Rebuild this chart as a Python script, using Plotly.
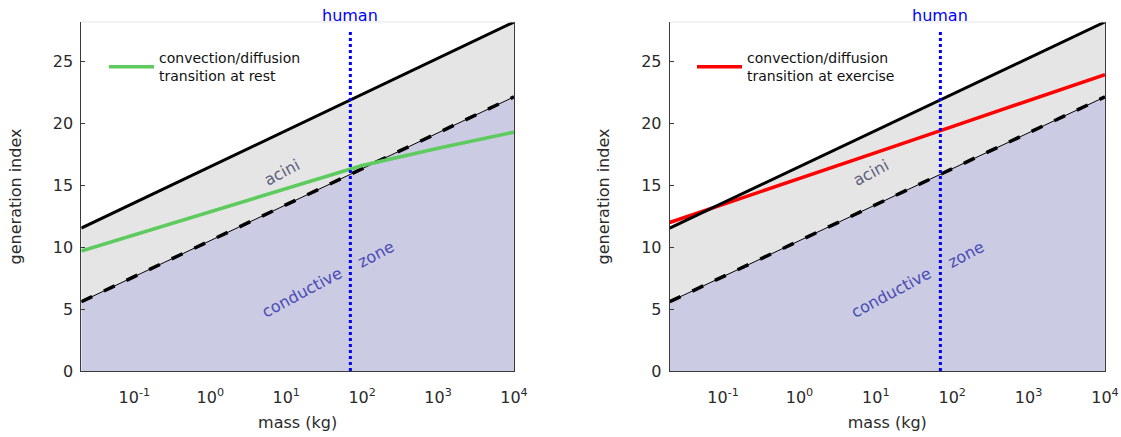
import plotly.graph_objects as go

# ---------------- data ----------------
mass_ends = [0.02, 10000]                      # kg, x-range end points of the lines
upper_boundary = [11.55, 28.2]                 # total generations (solid black)
lower_boundary = [5.6, 22.15]                  # end of conductive zone (dashed)

rest_mass = [0.02, 0.1, 1, 10, 100, 1000, 10000]
rest_gen = [9.7, 11.0, 12.85, 14.7, 16.6, 18.0, 19.3]

exercise_mass = [0.02, 0.1, 1, 10, 100, 1000, 10000]
exercise_gen = [12.0, 13.45, 15.55, 17.65, 19.75, 21.85, 23.95]

human_mass = 70
human_line = [0, 27.5]

x_tickvals = [0.1, 1, 10, 100, 1000, 10000]
x_ticktext = ["10<sup>-1</sup>", "10<sup>0</sup>", "10<sup>1</sup>",
              "10<sup>2</sup>", "10<sup>3</sup>", "10<sup>4</sup>"]
y_tickvals = [0, 5, 10, 15, 20, 25]

panels = [
    dict(mass=rest_mass, gen=rest_gen, color="#5ecb5e",
         name="convection/diffusion<br>transition at rest"),
    dict(mass=exercise_mass, gen=exercise_gen, color="#ff0000",
         name="convection/diffusion<br>transition at exercise"),
]

# ---------------- figure ----------------
FONT = "DejaVu Sans"
fig = go.Figure()

x_domains = [[0.0725, 0.4585], [0.5974, 0.9857]]
y_domain = [0.151, 0.9497]

for i, p in enumerate(panels):
    xa = "x" if i == 0 else "x2"
    ya = "y" if i == 0 else "y2"
    leg = "legend" if i == 0 else "legend2"
    # conductive zone fill
    fig.add_trace(go.Scatter(x=mass_ends, y=lower_boundary, mode="lines",
                             line=dict(width=0, color="rgba(0,0,0,0)"),
                             fill="tozeroy", fillcolor="#cbcbe3",
                             xaxis=xa, yaxis=ya, showlegend=False, hoverinfo="skip"))
    # acini fill
    fig.add_trace(go.Scatter(x=mass_ends, y=upper_boundary, mode="lines",
                             line=dict(width=0, color="rgba(0,0,0,0)"),
                             fill="tonexty", fillcolor="#e5e5e5",
                             xaxis=xa, yaxis=ya, showlegend=False, hoverinfo="skip"))
    # thin solid under dashed
    fig.add_trace(go.Scatter(x=mass_ends, y=lower_boundary, mode="lines",
                             line=dict(width=1, color="black"),
                             xaxis=xa, yaxis=ya, showlegend=False))
    fig.add_trace(go.Scatter(x=mass_ends, y=lower_boundary, mode="lines",
                             line=dict(width=3.5, color="black", dash="12px,13px"),
                             xaxis=xa, yaxis=ya, showlegend=False))
    # transition line
    fig.add_trace(go.Scatter(x=p["mass"], y=p["gen"], mode="lines",
                             line=dict(width=3.5, color=p["color"]),
                             name=p["name"], legend=leg,
                             xaxis=xa, yaxis=ya, showlegend=True))
    # upper boundary
    fig.add_trace(go.Scatter(x=mass_ends, y=upper_boundary, mode="lines",
                             line=dict(width=3, color="black"),
                             xaxis=xa, yaxis=ya, showlegend=False))
    # human
    fig.add_trace(go.Scatter(x=[human_mass, human_mass], y=human_line, mode="lines",
                             line=dict(width=3, color="#0000ff", dash="dot"),
                             xaxis=xa, yaxis=ya, showlegend=False))

    xref = "x" if i == 0 else "x2"
    yref = "y" if i == 0 else "y2"
    fig.add_annotation(x=0.94, y=16.06, xref=xref, yref=yref, text="acini",
                       showarrow=False, textangle=-28,
                       font=dict(family=FONT, size=16, color="#60607f"))
    fig.add_annotation(x=1.205, y=6.36, xref=xref, yref=yref, text="conductive",
                       showarrow=False, textangle=-28,
                       font=dict(family=FONT, size=16, color="#4a4ab4"))
    fig.add_annotation(x=2.177, y=9.39, xref=xref, yref=yref, text="zone",
                       showarrow=False, textangle=-28,
                       font=dict(family=FONT, size=16, color="#4a4ab4"))
    fig.add_annotation(x=1.845, y=28.2, xref=xref, yref=yref, text="human",
                       showarrow=False, yanchor="bottom", yshift=-5,
                       font=dict(family=FONT, size=16, color="#0000ff"))
    # light top frame
    fig.add_shape(type="line", xref=f"{xref} domain", yref=f"{yref} domain",
                  x0=0, x1=1, y0=1, y1=1, line=dict(color="#e6e6e6", width=1))

axis_common_x = dict(type="log", range=[-1.699, 4], tickvals=x_tickvals, ticktext=x_ticktext,
                     showgrid=False, zeroline=False, showline=True, linecolor="#3a3a3a",
                     linewidth=1, ticks="", ticklabelstandoff=12, automargin=False,
                     tickfont=dict(family=FONT, size=16, color="#2a2a2a"),
                     title=dict(text="mass (kg)", font=dict(family=FONT, size=16, color="#2a2a2a"),
                                standoff=10))
axis_common_y = dict(range=[0, 28.2], tickvals=y_tickvals, showgrid=False, zeroline=False,
                     showline=True, mirror=True, linecolor="#3a3a3a", linewidth=1,
                     ticks="inside", ticklen=4, tickcolor="#3a3a3a", ticklabelstandoff=4,
                     automargin=False,
                     tickfont=dict(family=FONT, size=16, color="#2a2a2a"),
                     title=dict(text="generation index", font=dict(family=FONT, size=16, color="#2a2a2a"),
                                standoff=27))

fig.update_layout(
    width=1121, height=437,
    margin=dict(l=0, r=0, t=0, b=0, autoexpand=False),
    paper_bgcolor="white", plot_bgcolor="white",
    font=dict(family=FONT),
    xaxis=dict(domain=x_domains[0], anchor="y", **axis_common_x),
    xaxis2=dict(domain=x_domains[1], anchor="y2", **axis_common_x),
    yaxis=dict(domain=y_domain, anchor="x", **axis_common_y),
    yaxis2=dict(domain=y_domain, anchor="x2", **axis_common_y),
    legend=dict(x=104 / 1121, y=1 - 42 / 437, xanchor="left", yanchor="top",
                bgcolor="rgba(0,0,0,0)", font=dict(family=FONT, size=14, color="#111"),
                itemwidth=45),
    legend2=dict(x=692 / 1121, y=1 - 42 / 437, xanchor="left", yanchor="top",
                 bgcolor="rgba(0,0,0,0)", font=dict(family=FONT, size=14, color="#111"),
                 itemwidth=45),
)

fig.write_html("out.html")
